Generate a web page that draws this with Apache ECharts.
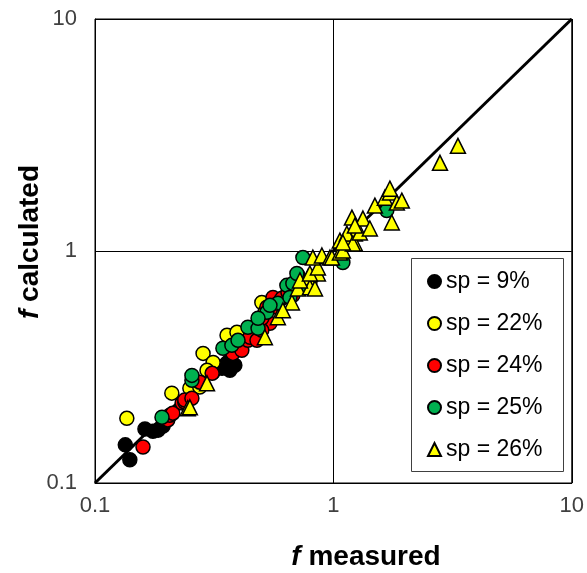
<!DOCTYPE html>
<html>
<head>
<meta charset="utf-8">
<script src="https://cdn.jsdelivr.net/npm/echarts@6/dist/echarts.min.js"></script>
<style>
  html, body { margin: 0; padding: 0; background: #fff; }
  #chart { width: 587px; height: 573px; }
</style>
</head>
<body>
<div id="chart"></div>
<script>
// Friction factor: calculated vs measured, grouped by solids percentage
const axisMin = 0.1;
const axisMax = 10;
const groupNames = ['sp = 9%', 'sp = 22%', 'sp = 24%', 'sp = 25%', 'sp = 26%'];
const groupColors = ['#000000', '#FFFF00', '#FF0000', '#00B050', '#FFFF00'];
const groupSymbols = ['circle', 'circle', 'circle', 'circle', 'triangle'];

// [f measured, f calculated]
const sp9 = [
  [0.134, 0.146], [0.140, 0.126], [0.162, 0.171], [0.175, 0.167], [0.184, 0.169],
  [0.193, 0.176], [0.341, 0.312], [0.358, 0.328], [0.368, 0.306], [0.386, 0.322],
  [0.313, 0.300]
];
const sp22 = [
  [0.136, 0.190], [0.210, 0.244], [0.250, 0.256], [0.275, 0.259], [0.284, 0.362],
  [0.313, 0.331], [0.295, 0.306], [0.358, 0.433], [0.394, 0.446], [0.501, 0.600],
  [0.516, 0.544], [0.745, 0.732], [0.797, 0.732]
];
const sp24 = [
  [0.159, 0.143], [0.202, 0.187], [0.206, 0.196], [0.212, 0.200], [0.232, 0.221],
  [0.238, 0.223], [0.238, 0.228], [0.255, 0.232], [0.275, 0.272], [0.310, 0.297],
  [0.379, 0.362], [0.413, 0.373], [0.438, 0.412], [0.447, 0.425], [0.478, 0.412],
  [0.542, 0.488], [0.526, 0.572], [0.558, 0.631], [0.608, 0.625], [0.645, 0.663],
  [0.501, 0.455], [0.703, 0.690], [0.501, 0.513], [0.580, 0.572], [0.676, 0.644]
];
const sp25 = [
  [0.191, 0.192], [0.255, 0.277], [0.255, 0.291], [0.344, 0.381], [0.375, 0.392],
  [0.438, 0.469], [0.483, 0.464], [0.526, 0.544], [0.585, 0.595], [0.638, 0.711],
  [0.710, 0.785], [0.676, 0.725], [0.657, 0.631], [0.703, 0.800], [0.745, 0.690],
  [0.745, 0.937], [1.096, 0.892], [1.675, 1.493], [0.483, 0.513], [0.398, 0.412],
  [0.542, 0.583]
];
const sp26 = [
  [0.245, 0.210], [0.250, 0.212], [0.295, 0.269], [0.516, 0.425], [0.585, 0.518],
  [0.670, 0.600], [0.710, 0.690], [0.782, 0.769], [0.861, 0.800], [0.797, 0.697],
  [0.837, 0.690], [0.724, 0.747], [0.797, 0.800], [0.861, 0.849], [0.820, 0.937],
  [0.895, 0.956], [0.967, 0.937], [0.986, 0.937], [1.065, 0.985], [1.096, 1.005],
  [1.150, 1.143], [1.231, 1.189], [1.231, 1.077], [1.065, 1.109], [1.139, 1.189],
  [1.207, 1.077], [1.096, 1.088], [1.291, 1.202], [1.196, 1.393], [1.330, 1.380],
  [1.422, 1.250], [1.231, 1.287], [1.493, 1.569], [1.644, 1.698], [1.726, 1.785],
  [1.726, 1.857], [1.758, 1.327], [1.846, 1.617], [1.937, 1.649], [2.80, 2.40],
  [3.33, 2.84], [0.614, 0.555]
];
const groupData = [sp9, sp22, sp24, sp25, sp26];
const parityLine = [[axisMin, axisMin], [axisMax, axisMax]];

const FONT = '"Liberation Sans", Arial, sans-serif';
const chart = echarts.init(document.getElementById('chart'), null, { renderer: 'canvas' });

const tickFormatter = (v) => String(+v.toPrecision(3));
const logAxis = (labelMargin) => ({
  type: 'log',
  logBase: 10,
  min: axisMin,
  max: axisMax,
  axisLine: { show: true, lineStyle: { color: '#000', width: 1 } },
  axisTick: { show: false },
  minorTick: { show: false },
  splitLine: { show: true, lineStyle: { color: '#000', width: 1 } },
  axisLabel: {
    color: '#404040',
    fontFamily: FONT,
    fontSize: 22,
    margin: labelMargin,
    formatter: tickFormatter
  }
});

const scatterSeries = groupNames.map((name, i) => ({
  name,
  type: 'scatter',
  data: groupData[i],
  symbol: groupSymbols[i],
  symbolSize: groupSymbols[i] === 'triangle' ? 15 : 14,
  itemStyle: { color: groupColors[i], borderColor: '#000', borderWidth: 1.5, opacity: 1 },
  z: 3
}));

chart.setOption({
  animation: false,
  backgroundColor: '#fff',
  grid: {
    left: 95, right: 15, top: 19, bottom: 90,
    show: true, borderColor: '#000', borderWidth: 1, containLabel: false
  },
  xAxis: logAxis(12),
  yAxis: logAxis(18),
  legend: {
    data: groupNames,
    orient: 'vertical',
    left: 427,
    top: 270,
    padding: 0,
    itemWidth: 13,
    itemHeight: 13,
    itemGap: 19,
    textStyle: { fontFamily: FONT, fontSize: 23, color: '#000', lineHeight: 21, padding: [0, 0, 0, 0] }
  },
  graphic: [
    {
      type: 'rect',
      shape: { x: 411.5, y: 258.5, width: 152, height: 213 },
      style: { fill: 'transparent', stroke: '#404040', lineWidth: 1 },
      z: 10
    },
    {
      type: 'text',
      x: 366, y: 557,
      style: {
        text: '{i|f} measured',
        align: 'center', verticalAlign: 'middle',
        rich: {
          i: { fontFamily: FONT, fontSize: 28, fontWeight: 'bold', fontStyle: 'italic', fill: '#000' }
        },
        fontFamily: FONT, fontSize: 28, fontWeight: 'bold', fill: '#000'
      }
    },
    {
      type: 'text',
      x: 30, y: 242,
      rotation: Math.PI / 2,
      style: {
        text: '{i|f} calculated',
        align: 'center', verticalAlign: 'middle',
        rich: {
          i: { fontFamily: FONT, fontSize: 28, fontWeight: 'bold', fontStyle: 'italic', fill: '#000' }
        },
        fontFamily: FONT, fontSize: 28, fontWeight: 'bold', fill: '#000'
      }
    }
  ],
  series: [
    {
      name: 'parity',
      type: 'line',
      data: parityLine,
      symbol: 'none',
      lineStyle: { color: '#000', width: 3 },
      z: 2,
      silent: true
    }
  ].concat(scatterSeries)
});
</script>
</body>
</html>
